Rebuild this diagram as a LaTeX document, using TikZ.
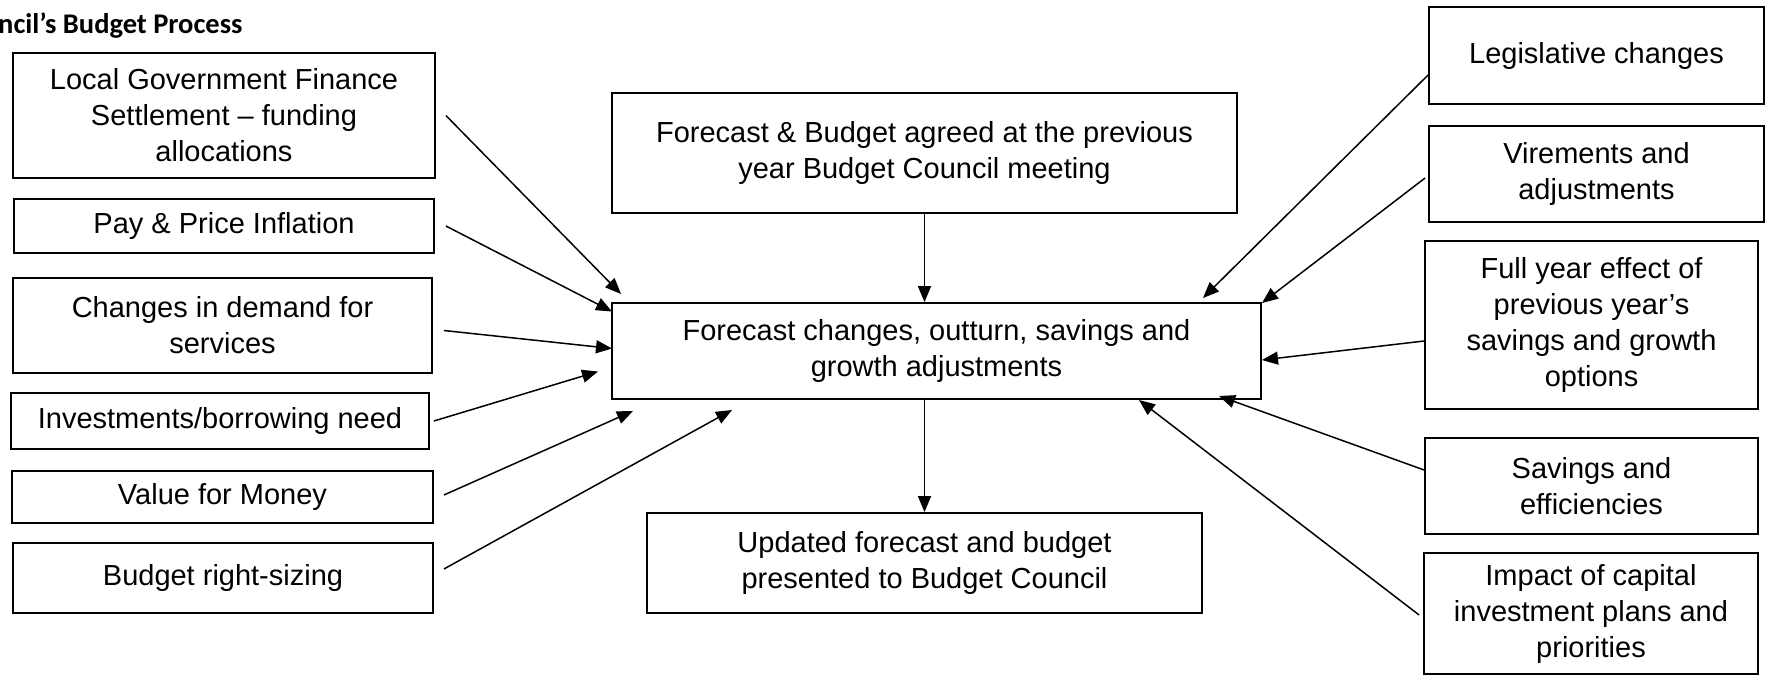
\documentclass[tikz,border=0pt]{standalone}
\usepackage{fontspec}
\setmainfont{Liberation Sans}
\newfontfamily\titlefont{Carlito}
\usetikzlibrary{arrows.meta}
\begin{document}
\begin{tikzpicture}[x=1pt,y=-1pt,
  box/.style={draw, line width=1.8pt, align=center, inner sep=0pt,
    font=\fontsize{29}{36}\selectfont},
  arr/.style={line width=1.5pt, -{Triangle[length=16pt,width=13pt]}}]
\useasboundingbox (0,0) rectangle (1765,675);

\node[anchor=base west, inner sep=0pt, font=\titlefont\bfseries\fontsize{28.5}{30}\selectfont] (title) at (-2,33) {ncil’s Budget Process};

% left column
\node[box, minimum width=422pt, minimum height=125pt] (lgfs) at (224,115.5) {Local Government Finance\\Settlement – funding\\allocations};
\node[box, minimum width=420pt, minimum height=54pt] (pay) at (224,226) {Pay \& Price Inflation};
\node[box, minimum width=419pt, minimum height=95pt] (chg) at (222.5,325.5) {Changes in demand for\\services};
\node[box, minimum width=418pt, minimum height=56pt] (inv) at (220,421) {Investments/borrowing need};
\node[box, minimum width=421pt, minimum height=52pt] (vfm) at (222.5,497) {\raisebox{-3pt}{Value for Money}};
\node[box, minimum width=420pt, minimum height=70pt] (brs) at (223,578) {Budget right-sizing};

% centre column
\node[box, minimum width=625pt, minimum height=120pt] (top) at (924.5,153) {Forecast \& Budget agreed at the previous\\year Budget Council meeting};
\node[box, minimum width=649pt, minimum height=96pt] (main) at (936.5,351) {Forecast changes, outturn, savings and\\growth adjustments};
\node[box, minimum width=555pt, minimum height=100pt] (upd) at (924.5,563) {Updated forecast and budget\\presented to Budget Council};

% right column
\node[box, minimum width=335pt, minimum height=97pt] (leg) at (1596.5,55.5) {Legislative changes};
\node[box, minimum width=335pt, minimum height=96pt] (vir) at (1596.5,174) {Virements and\\adjustments};
\node[box, minimum width=333pt, minimum height=168pt] (fye) at (1591.5,325) {Full year effect of\\previous year’s\\savings and growth\\options};
\node[box, minimum width=333pt, minimum height=96pt] (sav) at (1591.5,486) {Savings and\\efficiencies};
\node[box, minimum width=334pt, minimum height=121pt] (imp) at (1591,613.5) {Impact of capital\\investment plans and\\priorities};

% arrow tips near the main box
\coordinate (t1) at (621,294);
\coordinate (t2) at (612,311.5);
\coordinate (t3) at (612,348.5);
\coordinate (t4) at (598,371.5);
\coordinate (t5) at (633,411);
\coordinate (t6) at (732,410);
\coordinate (t7) at (1203,298);
\coordinate (t8) at (1262,303);
\coordinate (t9) at (1262,360);
\coordinate (t10) at (1219,396);
\coordinate (t11) at (1139,400);

% vertical flow
\draw[arr] (top.south) -- (top.south |- main.north);
\draw[arr] (top.south |- main.south) -- (upd.north);

% left inputs
\draw[arr] ([xshift=10pt]lgfs.east) -- (t1);
\draw[arr] ([xshift=11pt]pay.east) -- (t2);
\draw[arr] ([xshift=11pt,yshift=-5pt]chg.east) -- (t3);
\draw[arr] ([xshift=4pt]inv.east) -- (t4);
\draw[arr] ([xshift=10pt,yshift=2pt]vfm.east) -- (t5);
\draw[arr] ([xshift=10pt,yshift=9pt]brs.east) -- (t6);

% right inputs
\draw[arr] ([yshift=-19.5pt]leg.west) -- (t7);
\draw[arr] ([xshift=-3pt,yshift=-4pt]vir.west) -- (t8);
\draw[arr] ([yshift=-16pt]fye.west) -- (t9);
\draw[arr] ([yshift=16pt]sav.west) -- (t10);
\draw[arr] ([xshift=-4pt,yshift=-1.5pt]imp.west) -- (t11);
\end{tikzpicture}
\end{document}
